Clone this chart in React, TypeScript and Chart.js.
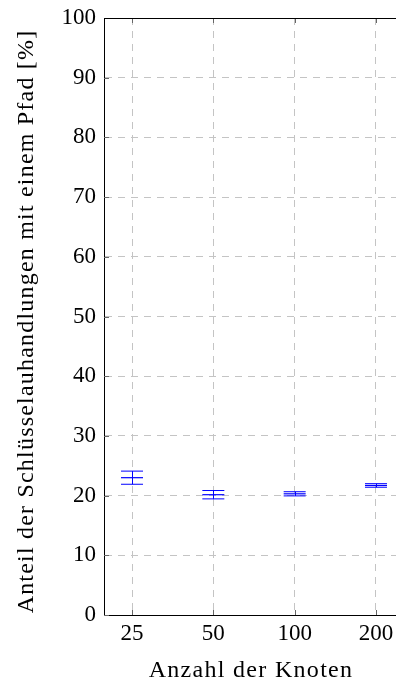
import React, { useEffect, useRef } from "react";
import { Chart, registerables } from "chart.js";

Chart.register(...registerables);

const nodeCounts = ["25", "50", "100", "200"];
const meanShare = [23.0, 20.15, 20.3, 21.7];
const errShare = [1.1, 0.7, 0.35, 0.3];
const yTicks = [0, 10, 20, 30, 40, 50, 60, 70, 80, 90, 100];
const xTitle = "Anzahl der Knoten";
const yTitle = "Anteil der Schlüsselauhandlungen mit einem Pfad [%]";

const FONT = "'Liberation Serif', 'Times New Roman', serif";

const frame = {
  id: "frame",
  afterDatasetsDraw(chart: any) {
    const { ctx, chartArea, scales } = chart;
    const xs = scales.x;
    const ys = scales.y;
    ctx.save();
    ctx.strokeStyle = "rgb(0,0,255)";
    ctx.lineWidth = 1;
    meanShare.forEach((m, i) => {
      const x = Math.round(xs.getPixelForValue(i)) + 0.5;
      ctx.beginPath();
      ctx.moveTo(x, ys.getPixelForValue(m + errShare[i]));
      ctx.lineTo(x, ys.getPixelForValue(m - errShare[i]));
      ctx.stroke();
    });
    ctx.strokeStyle = "#666";
    ctx.lineWidth = 1;
    nodeCounts.forEach((_, i) => {
      const x = Math.round(xs.getPixelForValue(i)) + 0.5;
      ctx.beginPath();
      ctx.moveTo(x, chartArea.bottom);
      ctx.lineTo(x, chartArea.bottom - 5);
      ctx.moveTo(x, chartArea.top);
      ctx.lineTo(x, chartArea.top + 5);
      ctx.stroke();
    });
    yTicks.forEach((v) => {
      const y = Math.round(ys.getPixelForValue(v)) + 0.5;
      ctx.beginPath();
      ctx.moveTo(chartArea.left, y);
      ctx.lineTo(chartArea.left + 5, y);
      ctx.stroke();
    });
    ctx.strokeStyle = "#000";
    ctx.beginPath();
    ctx.moveTo(chartArea.left, Math.round(chartArea.top) + 0.5);
    ctx.lineTo(chartArea.right, Math.round(chartArea.top) + 0.5);
    ctx.stroke();
    ctx.restore();
  },
  afterDraw(chart: any) {
    const { ctx, chartArea } = chart;
    ctx.save();
    ctx.fillStyle = "#000";
    ctx.font = `24px ${FONT}`;
    ctx.textAlign = "center";
    ctx.textBaseline = "alphabetic";
    (ctx as any).letterSpacing = "1.3px";
    ctx.fillText(xTitle, (chartArea.left + chartArea.right) / 2 + 1, 677);
    (ctx as any).letterSpacing = "1.2px";
    ctx.translate(33, (chartArea.top + chartArea.bottom) / 2 + 5);
    ctx.rotate(-Math.PI / 2);
    ctx.fillText(yTitle, 0, 0);
    ctx.restore();
  },
};

export default function App() {
  const ref = useRef<HTMLCanvasElement | null>(null);
  useEffect(() => {
    document.body.style.margin = "0";
    const canvas = ref.current;
    if (!canvas) return;
    const pts = (vals: number[]) => vals.map((v, i) => ({ x: i, y: v }));
    const mk = (vals: number[], w: number) => ({
      data: pts(vals),
      pointStyle: "line",
      pointRadius: 11,
      borderColor: "rgb(0,0,255)",
      backgroundColor: "rgb(0,0,255)",
      borderWidth: w,
    });
    const chart = new Chart(canvas, {
      type: "scatter",
      data: {
        datasets: [
          mk(meanShare.map((m, i) => m + errShare[i]), 1),
          mk(meanShare, 1.2),
          mk(meanShare.map((m, i) => m - errShare[i]), 1),
        ],
      },
      options: {
        animation: false,
        responsive: false,
        events: [],
        layout: { autoPadding: false, padding: { top: 18, left: 0, right: 0, bottom: 0 } },
        plugins: { legend: { display: false }, tooltip: { enabled: false } },
        scales: {
          x: {
            type: "linear",
            min: -0.3443,
            max: 3.246,
            afterBuildTicks: (s: any) => {
              s.ticks = nodeCounts.map((_, i) => ({ value: i }));
            },
            afterFit: (s: any) => {
              s.height = 64;
              s.paddingLeft = 0;
              s.paddingRight = 0;
            },
            ticks: {
              callback: (v: any) => nodeCounts[v as number],
              font: { family: FONT, size: 23 },
              color: "#000",
              padding: 5,
              maxRotation: 0,
            },
            grid: { color: "#c4c4c4", lineWidth: 1, drawTicks: false, tickLength: 0 },
            border: { display: true, color: "#000", width: 1, dash: [7, 6] },
          },
          y: {
            min: 0,
            max: 100,
            afterBuildTicks: (s: any) => {
              s.ticks = yTicks.map((v) => ({ value: v }));
            },
            afterFit: (s: any) => {
              s.width = 104;
              s.paddingTop = 0;
              s.paddingBottom = 0;
            },
            ticks: {
              font: { family: FONT, size: 23 },
              color: "#000",
              padding: 8,
            },
            grid: { color: "#c4c4c4", lineWidth: 1, drawTicks: false, tickLength: 0 },
            border: { display: true, color: "#000", width: 1, dash: [7, 6] },
          },
        },
      },
      plugins: [frame],
    } as any);
    return () => chart.destroy();
  }, []);
  return (
    <div style={{ width: 396, height: 679 }}>
      <canvas ref={ref} width={396} height={679} style={{ display: "block" }} />
    </div>
  );
}
